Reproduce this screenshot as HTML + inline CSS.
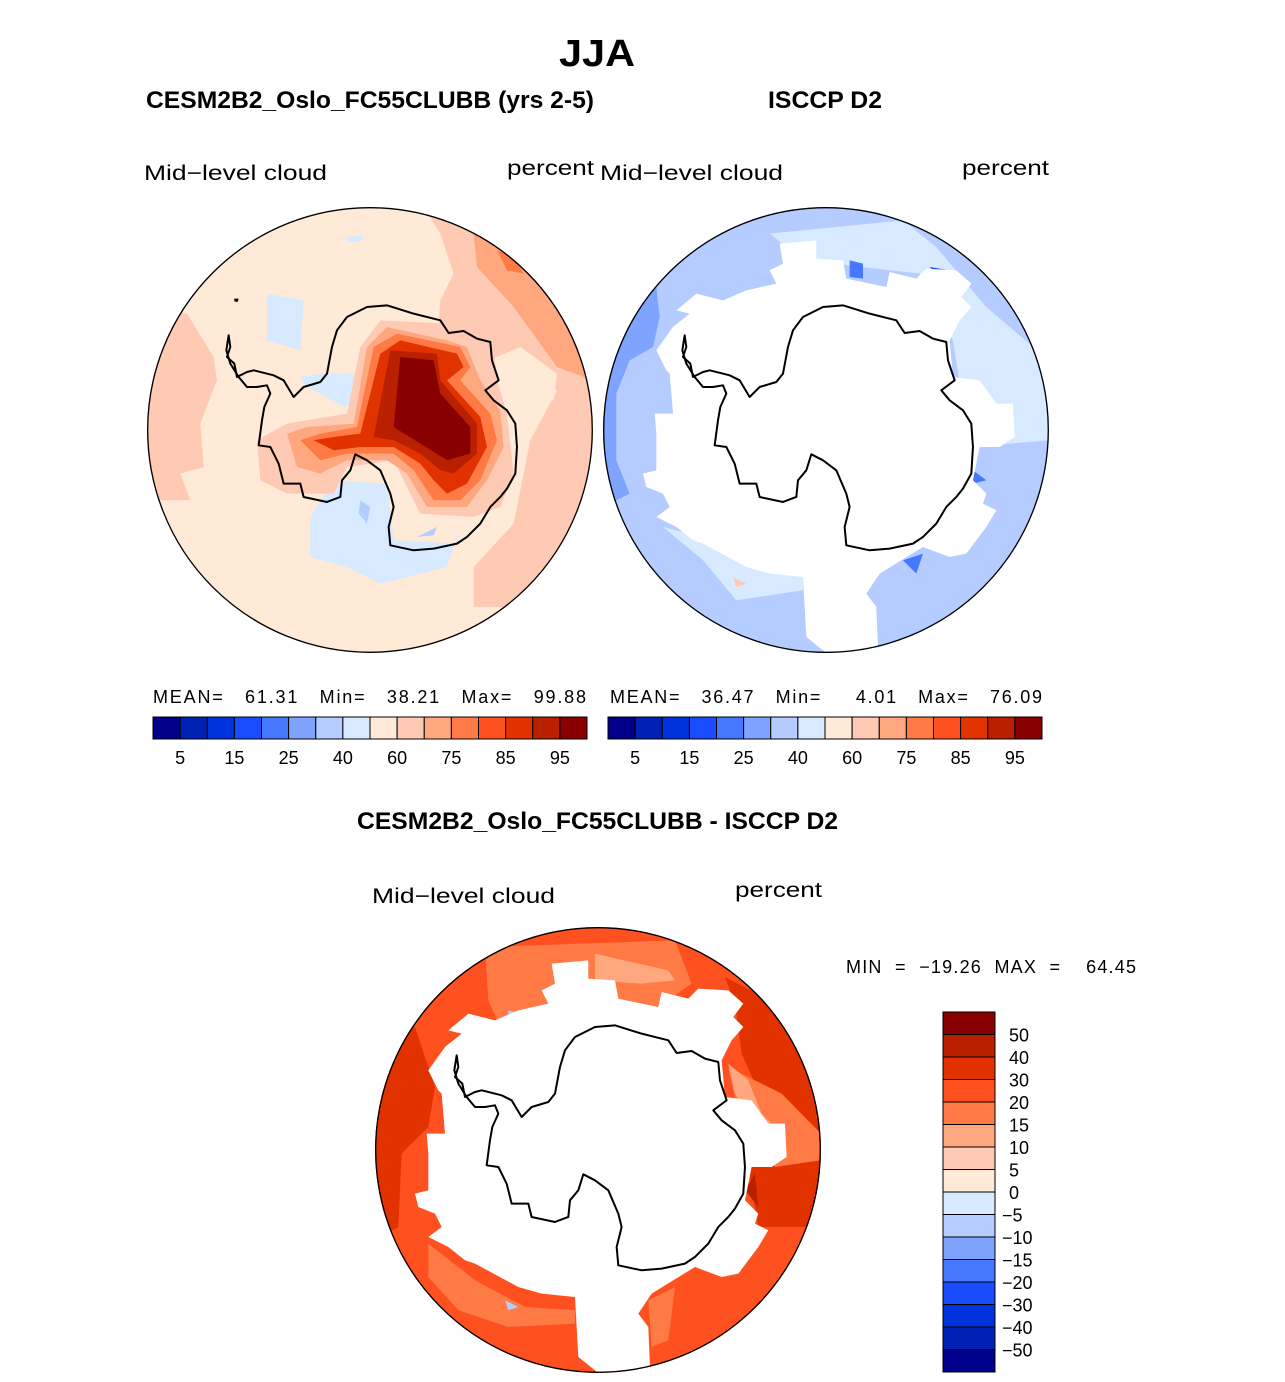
<!DOCTYPE html>
<html><head><meta charset="utf-8"><style>
html,body{margin:0;padding:0;background:#fff;}
svg{display:block;font-family:"Liberation Sans",sans-serif;}
</style></head><body>
<svg id="fig" width="1285" height="1382" viewBox="0 0 1285 1382">
<defs>
<clipPath id="cc"><circle cx="669" cy="669" r="669"/></clipPath>
<path id="ant" fill="none" stroke="#000" stroke-width="6" stroke-linejoin="round" d="M245,385 L250,420 L240,450 L262,470 L270,510 L300,495 L320,490 L380,505 L410,520 L440,570 L470,540 L520,525 L540,500 L555,420 L570,370 L600,330 L630,315 L660,300 L720,295 L800,320 L880,340 L905,378 L950,372 L990,395 L1030,405 L1035,460 L1055,520 L1015,550 L1040,580 L1080,610 L1105,650 L1110,720 L1105,800 L1080,845 L1060,870 L1030,900 L1000,950 L960,990 L930,1010 L860,1025 L800,1030 L730,1015 L725,960 L740,900 L730,860 L700,790 L660,760 L625,742 L610,790 L585,820 L580,870 L540,885 L470,870 L460,830 L410,830 L395,770 L370,720 L335,715 L345,640 L352,600 L370,560 L360,535 L330,540 L300,540 L275,510 L250,470 L238,430 Z"/>
<path id="mask" fill="#fff" d="M530,110 L640,100 L640,155 L720,160 L730,215 L850,240 L860,195 L940,215 L970,185 L1060,190 L1105,230 L1075,270 L1105,300 L1070,340 L1040,400 L1050,510 L1130,520 L1180,590 L1230,590 L1235,690 L1190,720 L1130,720 L1110,820 L1150,860 L1140,890 L1180,910 L1150,960 L1090,1040 L1040,1050 L960,1020 L830,1100 L790,1160 L820,1200 L825,1320 L670,1338 L610,1290 L600,1110 L500,1100 L430,1080 L300,1010 L270,1000 L220,960 L160,930 L200,900 L180,860 L130,840 L120,800 L160,790 L160,680 L155,620 L210,620 L200,500 L190,490 L160,430 L210,360 L260,320 L220,310 L280,260 L360,280 L430,250 L520,230 L500,190 L540,170 Z"/>
</defs>

<text x="597" y="66" font-size="38" font-weight="bold" text-anchor="middle" textLength="76" lengthAdjust="spacingAndGlyphs">JJA</text>
<text x="146" y="108" font-size="24" font-weight="bold" textLength="448" lengthAdjust="spacingAndGlyphs">CESM2B2_Oslo_FC55CLUBB (yrs 2-5)</text>
<text x="768" y="108" font-size="24" font-weight="bold" textLength="114" lengthAdjust="spacingAndGlyphs">ISCCP D2</text>
<text x="144" y="180" font-size="21" textLength="183" lengthAdjust="spacingAndGlyphs">Mid−level  cloud</text>
<text x="507" y="175" font-size="21" textLength="87" lengthAdjust="spacingAndGlyphs">percent</text>
<text x="600" y="180" font-size="21" textLength="183" lengthAdjust="spacingAndGlyphs">Mid−level  cloud</text>
<text x="962" y="175" font-size="21" textLength="87" lengthAdjust="spacingAndGlyphs">percent</text>

<!-- Left map -->
<g transform="translate(147,207) scale(0.3333)">
<g clip-path="url(#cc)">
<rect x="0" y="0" width="1338" height="1338" fill="#ffead8"/>
<path fill="#ffcab4" d="M830,0 L1338,0 L1338,1100 L1100,1200 L980,1200 L980,1080 L1100,950 L1150,700 L1230,550 L1120,420 L1000,470 L870,420 L880,280 L920,200 L880,80 Z"/>
<path fill="#ffcab4" d="M0,300 L120,320 L200,450 L210,520 L160,650 L170,780 L100,800 L130,880 L0,880 Z"/>
<path fill="#ffa880" d="M980,80 L1100,120 L1338,400 L1338,520 L1230,480 L1100,300 L990,180 Z"/>
<path fill="#ff7a45" d="M1050,130 L1100,150 L1130,200 L1080,190 Z"/>
<path fill="#ffead8" d="M1120,420 L1230,500 L1220,580 L1100,600 L1050,520 Z"/>
<path fill="#d8eaff" d="M360,260 L470,280 L460,430 L360,400 Z"/>
<path fill="#d8eaff" d="M600,90 L650,85 L640,105 L600,105 Z"/>
<path fill="#d8eaff" d="M490,930 L560,820 L720,830 L740,1000 L930,1010 L940,960 L900,1080 L700,1130 L600,1080 L490,1050 Z"/>
<path fill="#b4ccff" d="M640,880 L670,900 L660,950 L635,920 Z"/>
<path fill="#b4ccff" d="M810,990 L870,960 L860,985 Z"/>
<path fill="#d8eaff" d="M460,510 L520,500 L600,500 L650,510 L640,580 L590,600 L520,560 L470,530 Z"/>
<path fill="#ffcab4" d="M330,700 L420,650 L600,620 L640,420 L700,340 L900,350 L1000,380 L1040,420 L1050,520 L1080,620 L1100,800 L1060,900 L980,930 L820,920 L740,760 L600,780 L560,860 L420,860 L340,820 Z"/>
<path fill="#ffa880" d="M420,680 L480,660 L620,650 L660,420 L720,360 L900,400 L960,420 L1000,520 L1060,610 L1070,720 L1020,820 L960,900 L840,900 L780,800 L720,760 L600,760 L520,800 L450,780 Z"/>
<path fill="#ff7a45" d="M460,700 L520,680 L630,660 L680,420 L750,380 L940,420 L970,480 L940,520 L1030,620 L1050,700 L1000,820 L940,880 L860,880 L800,790 L740,740 L600,740 L520,760 Z"/>
<path fill="#e23200" d="M500,700 L560,690 L640,680 L700,440 L760,400 L930,440 L950,480 L900,520 L1000,630 L1020,720 L960,830 L900,860 L860,820 L820,770 L740,720 L640,720 L560,730 Z"/>
<path fill="#b82000" d="M680,690 L730,430 L870,440 L880,520 L990,650 L990,740 L920,800 L880,790 L820,740 L740,700 Z"/>
<path fill="#880000" d="M760,450 L860,460 L880,560 L970,660 L970,740 L900,760 L740,660 Z"/>
</g>
<circle cx="669" cy="669" r="667" fill="none" stroke="#000" stroke-width="4"/>
<use href="#ant"/>
<path d="M262,275 L275,275 L272,285 L262,283 Z" fill="#000"/>
</g>

<!-- Right map -->
<g transform="translate(603,207) scale(0.3333)">
<g clip-path="url(#cc)">
<rect x="0" y="0" width="1338" height="1338" fill="#b4ccff"/>
<path fill="#7fa4ff" d="M0,200 L160,240 L170,330 L150,420 L80,460 L40,560 L40,760 L80,860 L0,900 Z"/>
<path fill="#d8eaff" d="M500,80 L900,40 L1000,120 L1150,300 L1338,460 L1338,700 L1100,720 L1050,400 L950,200 L600,160 Z"/>
<path fill="#d8eaff" d="M180,960 L300,1060 L400,1180 L600,1150 L600,1110 L430,1080 L260,980 Z"/>
<path fill="#1a4cff" d="M980,180 L1040,190 L1030,225 Z"/>
<path fill="#4577ff" d="M740,160 L780,170 L780,215 L740,210 Z"/>
<path fill="#4577ff" d="M1110,790 L1150,820 L1110,830 Z"/>
<path fill="#4577ff" d="M900,1060 L960,1040 L940,1100 Z"/>
<path fill="#ffcab4" d="M390,1110 L430,1130 L400,1140 Z"/>
<use href="#mask"/>
</g>
<circle cx="669" cy="669" r="667" fill="none" stroke="#000" stroke-width="4"/>
<use href="#ant"/>
</g>

<!-- Bottom map -->
<g transform="translate(375,927) scale(0.3333)">
<g clip-path="url(#cc)">
<rect x="0" y="0" width="1338" height="1338" fill="#ff5020"/>
<path fill="#e23200" d="M0,280 L120,300 L180,480 L160,600 L80,680 L70,900 L0,940 Z"/>
<path fill="#e23200" d="M1050,150 L1338,300 L1338,900 L1150,900 L1120,720 L1250,700 L1180,560 L1100,380 L1080,230 Z"/>
<path fill="#ff7a45" d="M330,60 L900,40 L950,170 L850,240 L730,215 L640,155 L520,230 L380,310 L340,220 Z"/>
<path fill="#ffa880" d="M660,80 L880,130 L900,160 L800,170 L660,160 Z"/>
<path fill="#ff7a45" d="M160,950 L300,1060 L450,1140 L600,1150 L600,1190 L400,1200 L250,1150 L160,1050 Z"/>
<path fill="#ff7a45" d="M1060,420 L1220,500 L1338,620 L1338,700 L1200,720 L1100,600 Z"/>
<path fill="#ff7a45" d="M820,1120 L900,1080 L880,1240 L830,1260 Z"/>
<path fill="#ffa880" d="M1060,410 L1120,460 L1160,560 L1220,620 L1150,600 L1080,500 Z"/>
<path fill="#880000" d="M990,190 L1050,200 L1035,235 Z"/>
<path fill="#b82000" d="M1110,790 L1140,740 L1150,840 Z"/>
<path fill="#b4ccff" d="M400,250 L440,260 L400,290 Z"/>
<path fill="#b4ccff" d="M390,1120 L430,1140 L400,1150 Z"/>
<use href="#mask"/>
</g>
<circle cx="669" cy="669" r="667" fill="none" stroke="#000" stroke-width="4"/>
<use href="#ant"/>
</g>

<text x="153" y="703" font-size="18" textLength="433" lengthAdjust="spacing" xml:space="preserve">MEAN=   61.31   Min=   38.21   Max=   99.88</text>
<text x="610" y="703" font-size="18" textLength="432" lengthAdjust="spacing" xml:space="preserve">MEAN=   36.47   Min=     4.01   Max=   76.09</text>

<text x="357" y="829" font-size="24" font-weight="bold" textLength="481" lengthAdjust="spacingAndGlyphs">CESM2B2_Oslo_FC55CLUBB - ISCCP D2</text>
<text x="372" y="903" font-size="21" textLength="183" lengthAdjust="spacingAndGlyphs">Mid−level  cloud</text>
<text x="735" y="897" font-size="21" textLength="87" lengthAdjust="spacingAndGlyphs">percent</text>
<text x="846" y="973" font-size="18" textLength="290" lengthAdjust="spacing" xml:space="preserve">MIN  =  −19.26  MAX  =    64.45</text>

<g id="cb1"></g>
<g id="cb2"></g>
<g id="cb3"></g>
</svg>
<script>
const fillColors = ["#00008a","#0022b4","#0033dd","#1a4cff","#4577ff","#7fa4ff","#b4ccff","#d8eaff","#ffead8","#ffcab4","#ffa880","#ff7a45","#ff5020","#e23200","#b82000","#880000"];
const absLevels = [5,10,15,20,25,30,40,50,60,65,70,75,80,85,90,95];
const absTickLabels = ["5","15","25","40","60","75","85","95"];
const diffTickLabels = ["50","40","30","20","15","10","5","0","−5","−10","−15","−20","−30","−40","−50"];
const NS="http://www.w3.org/2000/svg";
function mk(t,a,p){const e=document.createElementNS(NS,t);for(const k in a)e.setAttribute(k,a[k]);p.appendChild(e);return e;}
function hbar(id,x0,y0,w,h){
  const g=document.getElementById(id);const n=fillColors.length;const bw=w/n;
  fillColors.forEach((c,i)=>{
    const r=mk('rect',{x:x0+i*bw,y:y0,width:bw,height:h,fill:c,stroke:'#000','stroke-width':1},g);
    
    
  });
  absTickLabels.forEach((t,i)=>{
    const tx=mk('text',{x:x0+(2*i+1)*bw,y:y0+h+25,'font-size':18,'text-anchor':'middle'},g);
    tx.textContent=t;
    
    
  });
}
hbar('cb1',153,717,434,22);
hbar('cb2',608,717,434,22);
(function(){
  const g=document.getElementById('cb3');const x0=943,y0=1012,w=52,h=360;const n=fillColors.length;const bh=h/n;
  fillColors.slice().reverse().forEach((c,i)=>{
    const r=mk('rect',{x:x0,y:y0+i*bh,width:w,height:bh,fill:c,stroke:'#000','stroke-width':1},g);
    
    
  });
  diffTickLabels.forEach((t,i)=>{
    const tx=mk('text',{x:t.startsWith('−')?1002:1009,y:y0+(i+1)*bh+7,'font-size':18},g);
    tx.textContent=t;
    
    
  });
})();
</script>
</body></html>
